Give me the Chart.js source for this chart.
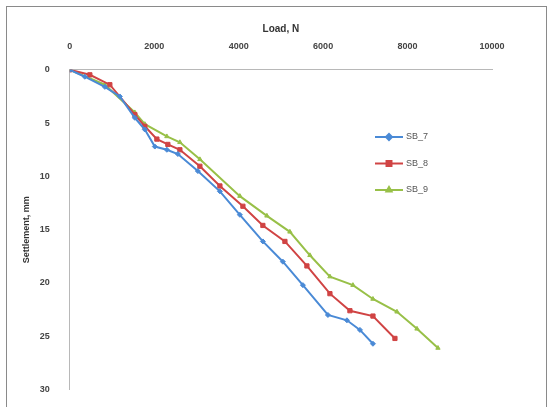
<!DOCTYPE html>
<html>
<head>
<meta charset="utf-8">
<script src="https://cdn.jsdelivr.net/npm/chart.js@4.4.0/dist/chart.umd.min.js"></script>
<style>
  html, body { margin: 0; padding: 0; background: #fff; }
  #wrap { position: relative; width: 557px; height: 407px; }
  #frame { position: absolute; left: 6px; top: 6px; width: 541px; height: 410px; border: 1px solid #8a8a8a; box-sizing: border-box; }
  canvas { position: absolute; left: 0; top: 0; }
</style>
</head>
<body>
<div id="wrap">
  <div id="frame"></div>
  <canvas id="chart" width="557" height="407"></canvas>
</div>
<script>
// data
const seriesNames = ["SB_7", "SB_8", "SB_9"];
const xTicks = [0, 2000, 4000, 6000, 8000, 10000];
const yTicks = [0, 5, 10, 15, 20, 25, 30];

const loadSB7 = [0, 355, 830, 1185, 1540, 1777, 2014, 2299, 2559, 3033, 3555, 4028, 4573, 5047, 5521, 6114, 6564, 6872, 7180];
const settleSB7 = [0, 0.65, 1.6, 2.5, 4.5, 5.6, 7.2, 7.5, 7.9, 9.5, 11.4, 13.6, 16.1, 18.0, 20.2, 23.0, 23.5, 24.4, 25.7];

const loadSB8 = [0, 474, 948, 1540, 1777, 2062, 2322, 2607, 3081, 3555, 4100, 4573, 5095, 5616, 6161, 6635, 7180, 7701];
const settleSB8 = [0, 0.47, 1.4, 4.2, 5.3, 6.5, 7.0, 7.5, 9.05, 10.9, 12.8, 14.6, 16.1, 18.4, 21.0, 22.6, 23.1, 25.2];

const loadSB9 = [0, 830, 1540, 1777, 2299, 2607, 3081, 4028, 4668, 5213, 5687, 6161, 6706, 7180, 7749, 8223, 8720];
const settleSB9 = [0, 1.4, 4.0, 5.1, 6.25, 6.8, 8.4, 11.85, 13.7, 15.2, 17.4, 19.4, 20.2, 21.5, 22.7, 24.3, 26.1];

const colors = ["#4a8ad6", "#d04444", "#98c048"];
const markers = ["rectRot", "rect", "triangle"];

function toPoints(xs, ys) {
  return xs.map((x, i) => ({ x: x, y: ys[i] }));
}

const datasets = [
  toPoints(loadSB7, settleSB7),
  toPoints(loadSB8, settleSB8),
  toPoints(loadSB9, settleSB9)
].map((pts, i) => ({
  label: seriesNames[i],
  data: pts,
  borderColor: colors[i],
  backgroundColor: colors[i],
  borderWidth: 2,
  pointStyle: markers[i],
  pointRadius: i === 1 ? 3 : 2.5,
  pointBorderWidth: 1,
  tension: 0
}));

// legend drawn by hand inside the plot, like the original
const sideLegend = {
  id: "sideLegend",
  afterDraw(chart) {
    const ctx = chart.ctx;
    const x0 = 375, y0 = 137, gap = 26.5;
    ctx.save();
    chart.data.datasets.forEach((ds, i) => {
      const y = y0 + i * gap;
      ctx.strokeStyle = ds.borderColor;
      ctx.lineWidth = 2;
      ctx.beginPath();
      ctx.moveTo(x0, y);
      ctx.lineTo(x0 + 28, y);
      ctx.stroke();
      Chart.helpers.drawPoint(ctx, {
        pointStyle: ds.pointStyle, radius: ds.pointRadius + 0.5, borderWidth: 1
      }, x0 + 14, y);
      ctx.fillStyle = ds.borderColor;
      ctx.fill();
      ctx.fillStyle = "#555";
      ctx.font = "9px 'Liberation Sans', Arial, sans-serif";
      ctx.textBaseline = "middle";
      ctx.fillText(ds.label, x0 + 31, y);
    });
    ctx.restore();
  }
};

const fontFam = "'Liberation Sans', Arial";

new Chart(document.getElementById("chart"), {
  type: "line",
  data: { datasets: datasets },
  options: {
    responsive: false,
    animation: false,
    layout: { padding: { left: 21, top: 23, right: 65, bottom: 8 } },
    plugins: {
      legend: { display: false },
      tooltip: { enabled: false }
    },
    scales: {
      x: {
        type: "linear",
        position: "top",
        min: 0,
        max: 10000,
        afterBuildTicks: axis => { axis.ticks = xTicks.map(v => ({ value: v })); },
        grid: { display: false },
        border: { display: true, color: "#b8b8b8", width: 1, dash: [2, 2] },
        ticks: { color: "#444", font: { family: fontFam, size: 9, weight: "bold" }, padding: 10, maxRotation: 0, callback: v => String(v) },
        title: { display: true, text: "Load, N", color: "#333", font: { family: fontFam, size: 10, weight: "bold" }, padding: { top: 0, bottom: -4 } }
      },
      y: {
        type: "linear",
        reverse: true,
        min: 0,
        max: 30,
        afterBuildTicks: axis => { axis.ticks = yTicks.map(v => ({ value: v })); },
        grid: { display: false },
        border: { display: true, color: "#b8b8b8", width: 1, dash: [2, 2] },
        ticks: { color: "#444", font: { family: fontFam, size: 9, weight: "bold" }, padding: 12 },
        title: { display: true, text: "Settlement, mm", color: "#333", font: { family: fontFam, size: 9, weight: "bold" }, padding: { top: 0, bottom: -4 } }
      }
    }
  },
  plugins: [sideLegend]
});
</script>
</body>
</html>
